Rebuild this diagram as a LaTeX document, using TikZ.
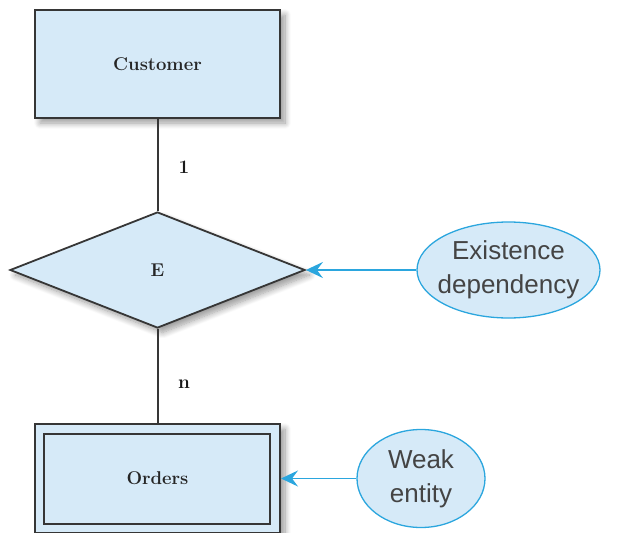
\documentclass[tikz,border=0pt]{standalone}
\usepackage{fontspec}
\newfontfamily\notefont{Liberation Sans}
\usetikzlibrary{shapes.geometric,arrows.meta,shadows.blur}

\definecolor{erfill}{HTML}{D6EAF8}
\definecolor{erline}{HTML}{363636}
\definecolor{noteline}{HTML}{2BA6DE}
\definecolor{notetext}{HTML}{444444}

\tikzset{
  softshadow/.style={blur shadow={shadow xshift=5pt, shadow yshift=-5pt,
      shadow blur steps=10, shadow blur radius=6pt, shadow opacity=40}},
  labelfont/.style={font=\fontsize{18.5}{20}\selectfont\bfseries, text=black!85},
  entitybox/.style={rectangle, draw=erline, line width=2pt, fill=erfill,
      minimum width=245pt, minimum height=108pt, inner sep=0pt, softshadow,
      labelfont},
  relbox/.style={diamond, draw=erline, line width=1.8pt, fill=erfill,
      minimum width=295pt, minimum height=116pt, inner sep=0pt, aspect=2.54,
      softshadow, labelfont},
  notebubble/.style={ellipse, draw=noteline, line width=1.3pt, fill=erfill,
      inner sep=-8pt, align=center, text=notetext,
      font=\notefont\fontsize{26}{34}\selectfont},
  link/.style={draw=erline, line width=2pt},
  pointer/.style={draw=noteline, line width=1.8pt,
      -{Stealth[length=17pt,width=16pt,inset=6pt]}},
  cardlabel/.style={font=\fontsize{19}{21}\selectfont\bfseries, text=black!90}
}

\begin{document}
\begin{tikzpicture}[x=1pt, y=-1pt]
  \useasboundingbox (0,0) rectangle (619,533);

  % entities and the relationship
  \node[entitybox] (customer) at (157.5,64) {Customer};
  \node[relbox] (rel) at (157.5,270) {E};
  \node[entitybox, minimum height=109pt] (orders) at (157.5,478.5) {};
  \draw[erline, line width=1.8pt]
    ([xshift=10pt,yshift=-11pt]orders.north west) rectangle
    ([xshift=-11pt,yshift=10pt]orders.south east);
  \node[labelfont] (orderslabel) at (orders.center) {Orders};

  % relationship lines with cardinalities
  \draw[link] (customer.south) -- (rel.north);
  \draw[link] (rel.south) -- (orders.north);
  \node[cardlabel] (one) at (184,167) {1};
  \node[cardlabel] (many) at (184,384) {n};

  % annotations
  \node[notebubble, minimum width=183pt, minimum height=96pt]
    (exist) at (508.5,270) {Existence\\dependency};
  \node[notebubble, inner sep=0pt, minimum width=128pt, minimum height=98pt]
    (weak) at (421,478.5) {Weak\\entity};

  \draw[pointer] (exist.west) -- (rel.east);
  \draw[pointer] (weak.west) -- (orders.east);
\end{tikzpicture}
\end{document}
